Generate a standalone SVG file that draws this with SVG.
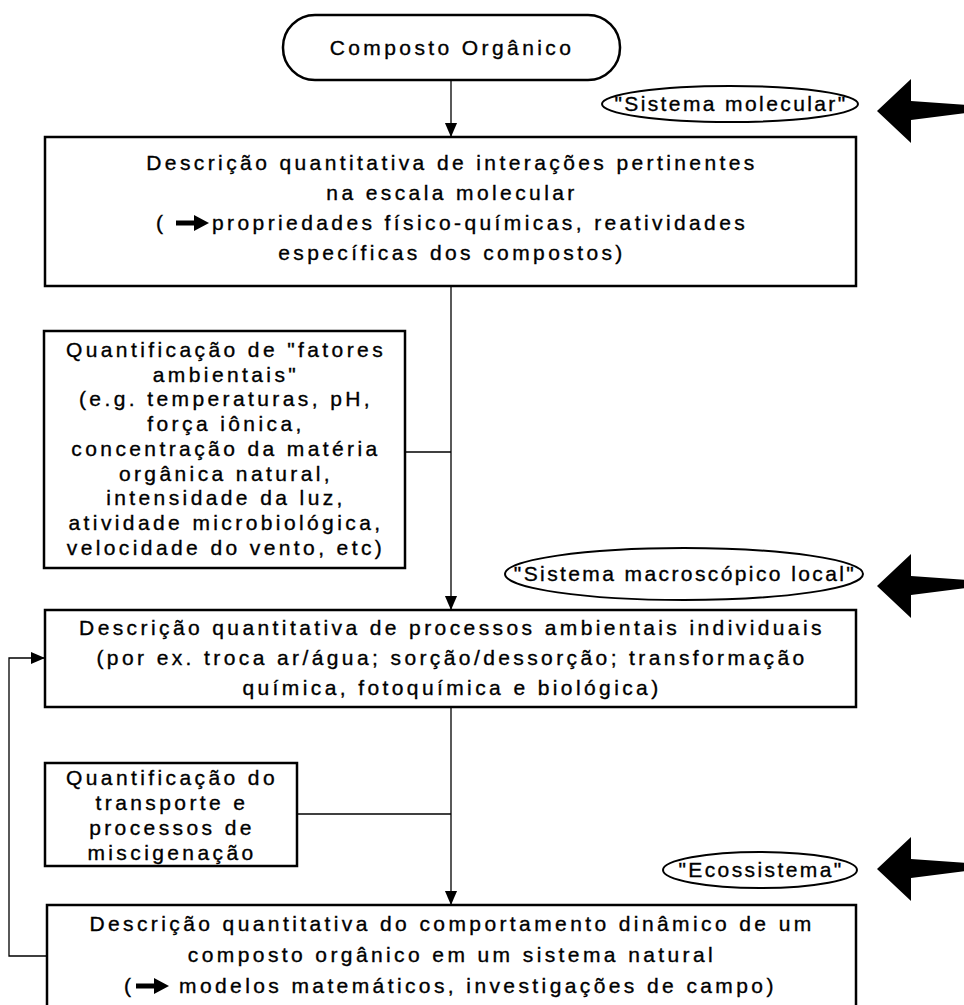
<svg xmlns="http://www.w3.org/2000/svg" width="964" height="1005" viewBox="0 0 964 1005">
<style>
.t{font-family:"Liberation Sans",Arial,sans-serif;font-size:21px;letter-spacing:3.4px;text-anchor:middle;fill:#000;stroke:#000;stroke-width:0.35}
.s{text-anchor:start}
.e{font-family:"Liberation Sans",Arial,sans-serif;font-size:21px;letter-spacing:2.4px;text-anchor:middle;fill:#000;stroke:#000;stroke-width:0.35}
.box{fill:#fff;stroke:#000;stroke-width:2.5}
.el{fill:#fff;stroke:#000;stroke-width:2}
.c{fill:none;stroke:#000;stroke-width:1.3}
.big{fill:#000}
</style>
<defs>
<marker id="ah" markerUnits="userSpaceOnUse" markerWidth="14" markerHeight="16" refX="15" refY="6.5" orient="auto" viewBox="0 0 15 13">
<path d="M0,0 L15,6.5 L0,13 Z" fill="#000"/>
</marker>
<polygon id="bigArrow" points="0,0 34,-32 34,-10 89,-6 89,2 34,9 34,32"/>
<polygon id="txtArrow" points="0,-2.4 18,-2.4 18,-8 33,0 18,8 18,2.4 0,2.4"/>
</defs>
<rect width="964" height="1005" fill="#fff"/>

<g id="connectors">
<line class="c" x1="451" y1="80" x2="451" y2="137" marker-end="url(#ah)"/>
<line class="c" x1="451" y1="286" x2="451" y2="610" marker-end="url(#ah)"/>
<line class="c" x1="405" y1="452" x2="451" y2="452"/>
<line class="c" x1="451" y1="707" x2="451" y2="905" marker-end="url(#ah)"/>
<line class="c" x1="297" y1="814" x2="451" y2="814"/>
<polyline class="c" points="47,956 9,956 9,658 45,658" marker-end="url(#ah)"/>
</g>

<g id="composto">
<rect class="box" x="283" y="15" width="337" height="65" rx="32" ry="32"/>
<text class="t" x="452" y="55">Composto Orgânico</text>
</g>

<g id="sistema-molecular">
<ellipse class="el" cx="730" cy="104" rx="128" ry="18"/>
<text class="e" x="731" y="111">"Sistema molecular"</text>
<use href="#bigArrow" class="big" x="877" y="111"/>
</g>

<g id="descricao-molecular">
<rect class="box" x="45" y="137" width="811" height="149"/>
<text class="t" x="452" y="170">Descrição quantitativa de interações pertinentes</text>
<text class="t" x="452" y="200">na escala molecular</text>
<text class="t s" x="156" y="230">(</text>
<use href="#txtArrow" class="big" x="176" y="223"/>
<text class="t s" x="212" y="230">propriedades físico-químicas, reatividades</text>
<text class="t" x="452" y="260">específicas dos compostos)</text>
</g>

<g id="fatores-ambientais">
<rect class="box" x="44" y="331" width="361" height="237"/>
<text class="t" x="226" y="357">Quantificação de "fatores</text>
<text class="t" x="226" y="382">ambientais"</text>
<text class="t" x="226" y="406">(e.g. temperaturas, pH,</text>
<text class="t" x="226" y="431">força iônica,</text>
<text class="t" x="226" y="456">concentração da matéria</text>
<text class="t" x="226" y="481">orgânica natural,</text>
<text class="t" x="226" y="505">intensidade da luz,</text>
<text class="t" x="226" y="530">atividade microbiológica,</text>
<text class="t" x="226" y="555">velocidade do vento, etc)</text>
</g>

<g id="sistema-macroscopico">
<ellipse class="el" cx="684" cy="574" rx="179" ry="26"/>
<text class="e" x="685" y="581">"Sistema macroscópico local"</text>
<use href="#bigArrow" class="big" x="877" y="586"/>
</g>

<g id="processos-individuais">
<rect class="box" x="45" y="610" width="811" height="97"/>
<text class="t" x="452" y="635">Descrição quantitativa de processos ambientais individuais</text>
<text class="t" x="452" y="665">(por ex. troca ar/água; sorção/dessorção; transformação</text>
<text class="t" x="452" y="695">química, fotoquímica e biológica)</text>
</g>

<g id="transporte">
<rect class="box" x="45" y="763" width="252" height="103"/>
<text class="t" x="172" y="785">Quantificação do</text>
<text class="t" x="172" y="810">transporte e</text>
<text class="t" x="172" y="835">processos de</text>
<text class="t" x="172" y="860">miscigenação</text>
</g>

<g id="ecossistema">
<ellipse class="el" cx="760" cy="870" rx="97" ry="18"/>
<text class="e" x="761" y="877">"Ecossistema"</text>
<use href="#bigArrow" class="big" x="877" y="869"/>
</g>

<g id="comportamento-dinamico">
<rect class="box" x="47" y="905" width="809" height="110"/>
<text class="t" x="452" y="931">Descrição quantitativa do comportamento dinâmico de um</text>
<text class="t" x="452" y="962">composto orgânico em um sistema natural</text>
<text class="t s" x="124" y="993">(</text>
<use href="#txtArrow" class="big" x="136" y="986"/>
<text class="t s" x="179" y="993">modelos matemáticos, investigações de campo)</text>
</g>
</svg>
